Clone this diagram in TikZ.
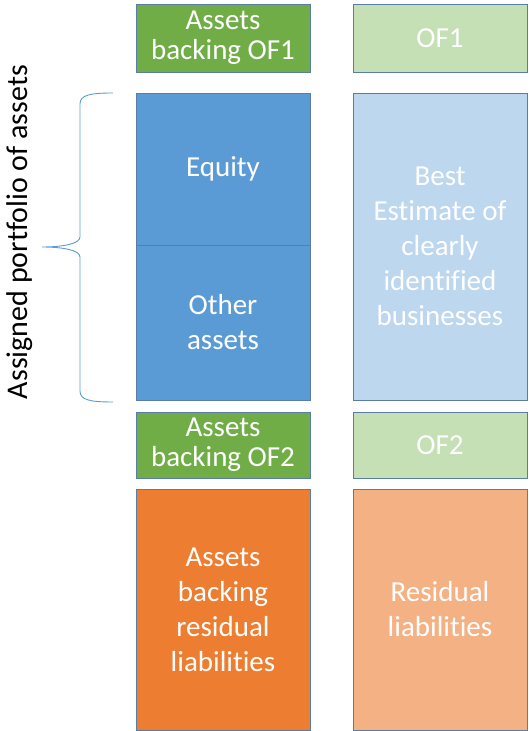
\documentclass[tikz,border=0pt]{standalone}
\usepackage{fontspec}
\setmainfont{Carlito}[Ligatures=NoCommon]
\usetikzlibrary{positioning}

\definecolor{dkgrn}{HTML}{70AD47}
\definecolor{ltgrn}{HTML}{C5E0B4}
\definecolor{midblu}{HTML}{5B9BD5}
\definecolor{ltblu}{HTML}{BDD7EE}
\definecolor{dkorg}{HTML}{ED7D31}
\definecolor{ltorg}{HTML}{F4B183}
\definecolor{edge}{HTML}{5A7DA6}

\begin{document}
\begin{tikzpicture}[
    x=1pt, y=1pt,
    blk/.style={draw=edge, line width=0.8pt, minimum width=174pt, inner sep=0pt,
               outer sep=0pt, align=center, text=white,
               font=\fontsize{29}{35}\selectfont},
    tight/.style={font=\fontsize{29}{30}\selectfont},
    brace/.style={draw=midblu, line width=0.9pt},
  ]
  \useasboundingbox (0,0) rectangle (528,731);

  % left column: assets
  \node[blk, tight, fill=dkgrn, minimum height=68pt] (asof1) at (223,693) {Assets\\backing OF1};
  \node[blk, fill=midblu, minimum height=152pt, below=21pt of asof1] (equity) {Equity};
  \node[blk, fill=midblu, minimum height=155pt, below=0pt of equity] (other) {Other\\assets};
  \node[blk, tight, fill=dkgrn, minimum height=66pt, below=12pt of other] (asof2) {Assets\\backing OF2};
  \node[blk, fill=dkorg, minimum height=241pt, below=11pt of asof2] (asres) {Assets\\backing\\residual\\liabilities};

  % right column: liabilities
  \node[blk, fill=ltgrn, minimum height=68pt, right=43pt of asof1] (of1) {OF1};
  \node[blk, fill=ltblu, minimum height=307pt, below=21pt of of1] (best) {Best\\Estimate of\\clearly\\identified\\businesses};
  \node[blk, fill=ltgrn, minimum height=66pt, right=43pt of asof2] (of2) {OF2};
  \node[blk, fill=ltorg, minimum height=241pt, right=43pt of asres] (resliab) {Residual\\liabilities};

  % brace and label
  \coordinate (brtop) at (113,638);
  \coordinate (brbot) at (113,329);
  \coordinate (brtip) at (42,484);
  \draw[brace] (brtop) .. controls (90,638) and (80,636) .. (80,627)
    -- (80,494) .. controls (80,487) and (62,484) .. (brtip)
    .. controls (62,484) and (80,481) .. (80,474)
    -- (80,340) .. controls (80,331) and (90,329) .. (brbot);
  \node[rotate=90, font=\fontsize{30}{36}\selectfont, inner sep=0pt] (portf) at (20,499) {Assigned portfolio of assets};
\end{tikzpicture}
\end{document}
